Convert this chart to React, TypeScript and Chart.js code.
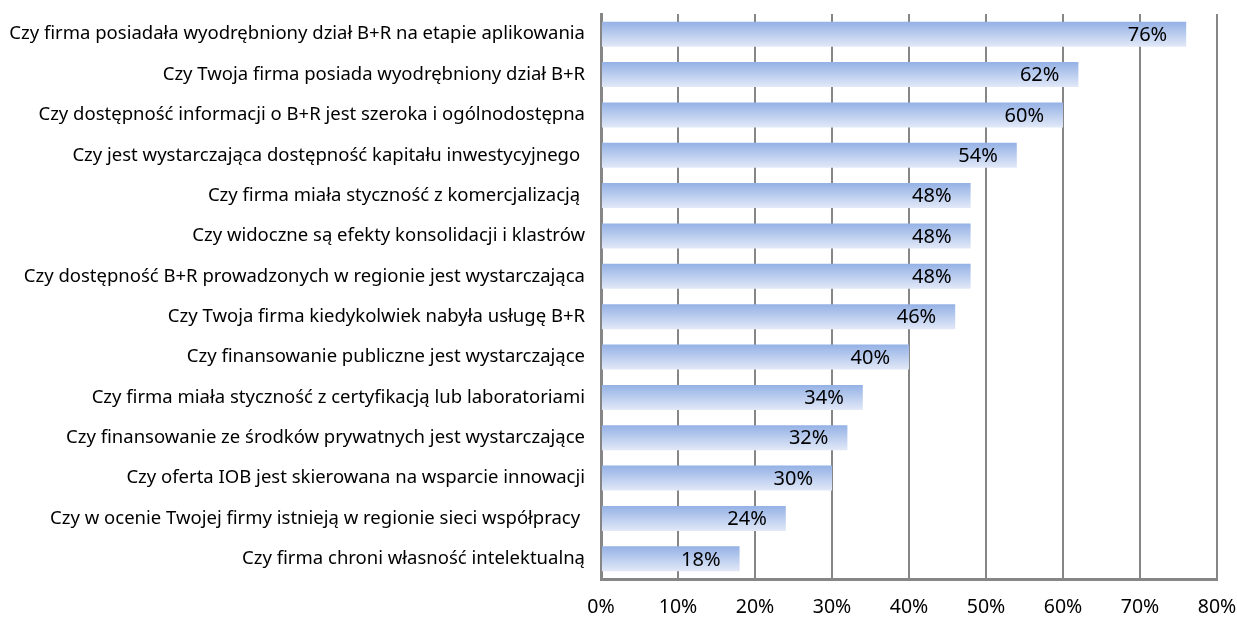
import React, { useEffect, useRef } from "react";
import { Chart, registerables } from "chart.js";

Chart.register(...registerables);

const categories = [
  "Czy firma posiadała wyodrębniony dział B+R na etapie aplikowania",
  "Czy Twoja firma posiada wyodrębniony dział B+R",
  "Czy dostępność informacji o B+R jest szeroka i ogólnodostępna",
  "Czy jest wystarczająca dostępność kapitału inwestycyjnego ",
  "Czy firma miała styczność z komercjalizacją ",
  "Czy widoczne są efekty konsolidacji i klastrów",
  "Czy dostępność B+R prowadzonych w regionie jest wystarczająca",
  "Czy Twoja firma kiedykolwiek nabyła usługę B+R",
  "Czy finansowanie publiczne jest wystarczające",
  "Czy firma miała styczność z certyfikacją lub laboratoriami",
  "Czy finansowanie ze środków prywatnych jest wystarczające",
  "Czy oferta IOB jest skierowana na wsparcie innowacji",
  "Czy w ocenie Twojej firmy istnieją w regionie sieci współpracy ",
  "Czy firma chroni własność intelektualną",
];
const values = [76, 62, 60, 54, 48, 48, 48, 46, 40, 34, 32, 30, 24, 18];
const xTicks = [0, 10, 20, 30, 40, 50, 60, 70, 80];

const FONT = "'Noto Sans', 'Open Sans', sans-serif";
const BAR_PCT = 0.62;

const labelPlugin = {
  id: "endLabels",
  afterDatasetsDraw(chart: any) {
    const ctx = chart.ctx;
    const meta = chart.getDatasetMeta(0);
    ctx.save();
    ctx.font = `20px ${FONT}`;
    ctx.fillStyle = "#000";
    ctx.textAlign = "right";
    ctx.textBaseline = "middle";
    meta.data.forEach((el: any, i: number) => {
      ctx.fillText(values[i] + "%", el.x - 19, el.y + 1);
    });
    ctx.restore();
  },
};

export default function App() {
  const ref = useRef<HTMLCanvasElement>(null);
  useEffect(() => {
    const canvas = ref.current!;
    const chart = new Chart(canvas, {
      type: "bar",
      data: {
        labels: categories,
        datasets: [
          {
            data: values,
            barPercentage: BAR_PCT,
            categoryPercentage: 1,
            borderWidth: 0,
            backgroundColor: (c: any) => {
              const ch = c.chart;
              const ys = ch.scales && ch.scales.y;
              if (!ys || c.dataIndex === undefined) return "#b8cbef";
              const yc = ys.getPixelForValue(c.dataIndex);
              const h = (ys.height / categories.length) * BAR_PCT;
              if (!isFinite(yc) || !isFinite(h) || h <= 0) return "#b8cbef";
              const g = ch.ctx.createLinearGradient(0, yc - h / 2, 0, yc + h / 2);
              g.addColorStop(0, "#94b1e5");
              g.addColorStop(1, "#e2e9f8");
              return g;
            },
          },
        ],
      },
      options: {
        indexAxis: "y",
        animation: false,
        responsive: false,
        maintainAspectRatio: false,
        layout: { padding: { top: 14, right: 20, left: 0, bottom: 0 } },
        plugins: {
          legend: { display: false },
          tooltip: { enabled: false },
        },
        scales: {
          x: {
            min: 0,
            max: 80,
            afterBuildTicks: (s: any) => {
              s.ticks = xTicks.map((v) => ({ value: v }));
            },
            afterFit: (s: any) => {
              s.height = 42;
              s.paddingLeft = 0;
              s.paddingRight = 0;
            },
            ticks: {
              callback: (v: any) => v + "%",
              font: { family: FONT, size: 19.5 },
              color: "#000",
              padding: 17,
              maxRotation: 0,
            },
            grid: {
              color: "#868686",
              lineWidth: 2,
              drawTicks: false,
            },
            border: { color: "#868686", width: 3 },
          },
          y: {
            afterFit: (s: any) => {
              s.width = 601;
              s.paddingTop = 0;
              s.paddingBottom = 0;
            },
            ticks: {
              font: { family: FONT, size: 18.5 },
              color: "#000",
              padding: 16,
            },
            grid: { display: false, drawTicks: false },
            border: { color: "#868686", width: 3 },
          },
        },
      },
      plugins: [labelPlugin],
    } as any);
    return () => chart.destroy();
  }, []);
  return (
    <div style={{ position: "absolute", left: 0, top: 0, width: 1237, height: 621, background: "#fff" }}>
      <canvas ref={ref} width={1237} height={621} />
    </div>
  );
}
